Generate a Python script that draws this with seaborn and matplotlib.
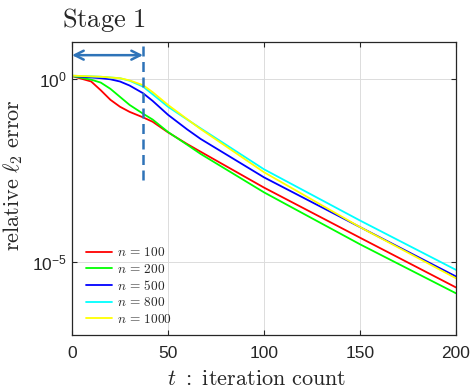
import numpy as np
import pandas as pd
import matplotlib
matplotlib.use("Agg")
import matplotlib.pyplot as plt
import seaborn as sns

# iteration counts at which values were read
t_vals = [0, 10, 15, 20, 25, 30, 37, 42, 50, 60, 67, 100, 150, 200]
# log10 of relative l2 error per series
log_err_100 = [0.08, -0.07, -0.31, -0.57, -0.76, -0.90, -1.05, -1.17, -1.46, -1.78, -1.99, -2.97, -4.34, -5.70]
log_err_200 = [0.08, -0.02, -0.10, -0.27, -0.49, -0.71, -0.95, -1.11, -1.45, -1.80, -2.05, -3.10, -4.52, -5.86]
log_err_500 = [0.08, 0.04, 0.02, -0.01, -0.07, -0.18, -0.39, -0.60, -0.98, -1.38, -1.64, -2.69, -4.05, -5.40]
log_err_800 = [0.09, 0.07, 0.06, 0.04, 0.02, -0.05, -0.21, -0.42, -0.76, -1.11, -1.35, -2.47, -3.87, -5.22]
log_err_1000 = [0.09, 0.07, 0.06, 0.04, 0.02, -0.04, -0.17, -0.36, -0.71, -1.10, -1.37, -2.55, -4.05, -5.45]

series_labels = [r"$n\,=\,100$", r"$n\,=\,200$", r"$n\,=\,500$", r"$n\,=\,800$", r"$n\,=\,1000$"]
series_logs = [log_err_100, log_err_200, log_err_500, log_err_800, log_err_1000]
series_colors = ["#ff0000", "#00ff00", "#0000ff", "#00ffff", "#ffff00"]

stage_end = 37
dash_bottom_log = -2.76
arrow_log = 0.65

x_ticks = [0, 50, 100, 150, 200]
y_ticks = [1e-5, 1e0]
y_ticklabels = [r"$\mathregular{10^{-5}}$", r"$\mathregular{10^{0}}$"]

rows = []
for lab, lg in zip(series_labels, series_logs):
    for t, v in zip(t_vals, lg):
        rows.append({"t": t, "err": 10.0 ** v, "n": lab})
df = pd.DataFrame(rows)

sns.set_style("ticks")
plt.rcParams["font.family"] = ["Liberation Sans", "DejaVu Sans"]
plt.rcParams["mathtext.fontset"] = "cm"

fig = plt.figure(figsize=(4.72, 3.89), dpi=100)
ax = fig.add_axes([72 / 472, 1 - 335 / 389, 384 / 472, 293 / 389])

sns.lineplot(data=df, x="t", y="err", hue="n", hue_order=series_labels,
             palette=series_colors, linewidth=1.3, ax=ax, legend="full")

ax.set_yscale("log")
ax.set_xlim(0, 200)
ax.set_ylim(1e-7, 10 ** 1.01)
ax.set_xticks(x_ticks)
ax.set_xticklabels([str(v) for v in x_ticks])
ax.set_yticks(y_ticks)
ax.set_yticklabels(y_ticklabels)
ax.minorticks_off()
ax.grid(True, color="#dcdcdc", linewidth=0.7)
ax.set_axisbelow(True)

for sp in ax.spines.values():
    sp.set_color("#262626")
    sp.set_linewidth(0.9)
ax.tick_params(direction="in", length=3.5, width=0.8, top=True, right=True,
               labelsize=12.5, colors="#262626", labelcolor="#262626")
ax.tick_params(axis="x", pad=8)
ax.tick_params(axis="y", pad=4)

blue = "#2e73b8"
ax.plot([stage_end, stage_end], [10 ** dash_bottom_log, 10 ** 1.01], color=blue,
        linewidth=1.8, linestyle=(0, (4, 2.2)), zorder=5)
ax.annotate("", xy=(0, 10 ** arrow_log), xytext=(stage_end, 10 ** arrow_log),
            arrowprops=dict(arrowstyle="<->", color=blue, lw=1.8, mutation_scale=16,
                            shrinkA=0, shrinkB=0), zorder=6)

ax.set_xlabel(r"$t\ \mathrm{:\ iteration\ count}$", fontsize=16)
ax.xaxis.set_label_coords(0.481, -0.116)
ax.set_ylabel(r"$\mathrm{relative}\ \ell_2\ \mathrm{error}$", fontsize=16)
ax.yaxis.set_label_coords(-0.122, 0.546)

fig.text(62 / 472, 1 - 27 / 389, r"$\mathrm{Stage\ 1}$", fontsize=19, va="baseline", ha="left")

handles, labels = ax.get_legend_handles_labels()
leg = ax.legend(handles, labels, loc="lower left", bbox_to_anchor=(0.012, 0.0),
                frameon=False, fontsize=9.6, handlelength=1.95, handletextpad=0.35,
                labelspacing=0.25, borderaxespad=0.3)
for h in leg.get_lines():
    h.set_linewidth(1.3)

fig.savefig("out.png", dpi=100)
